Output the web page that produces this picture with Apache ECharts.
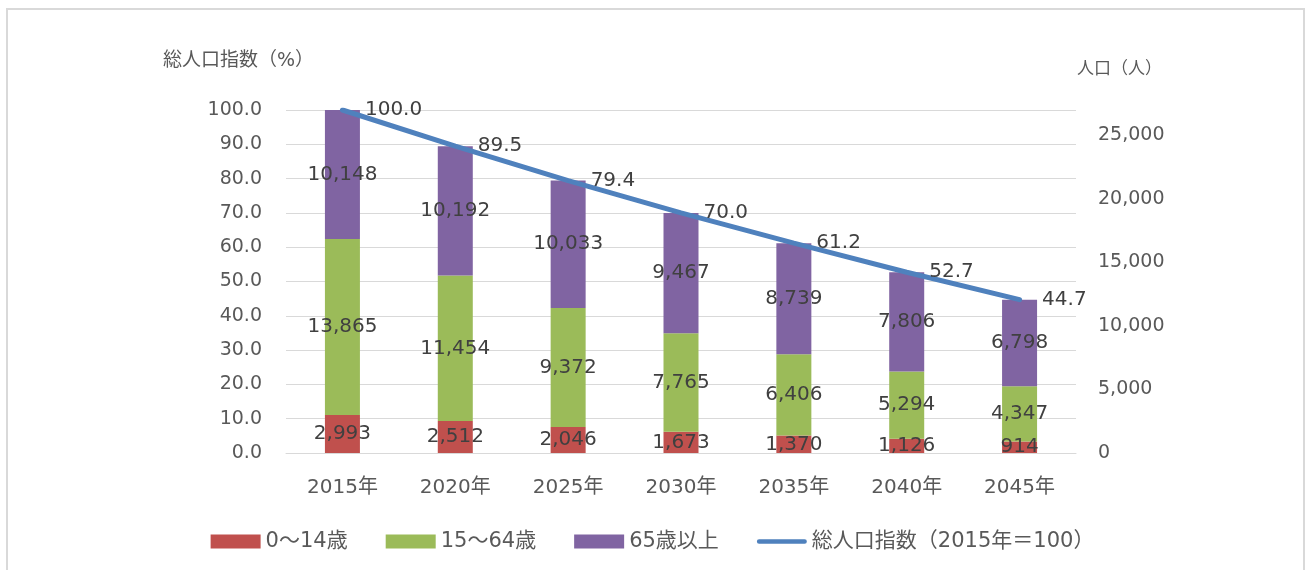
<!DOCTYPE html>
<html>
<head>
<meta charset="utf-8">
<script src="https://cdn.jsdelivr.net/npm/echarts@6/dist/echarts.min.js"></script>
<style>
  html, body { margin: 0; padding: 0; background: #fff; }
  #main { width: 1305px; height: 570px; }
  #frame { position: absolute; left: 6px; top: 8px; width: 1295px; height: 580px;
           border: 2px solid #d9d9d9; pointer-events: none; }
</style>
</head>
<body>
<div id="main"></div>
<div id="frame"></div>
<script>
// 年ごとの値
const years = ['2015年', '2020年', '2025年', '2030年', '2035年', '2040年', '2045年'];
const age0to14 = [2993, 2512, 2046, 1673, 1370, 1126, 914];
const age15to64 = [13865, 11454, 9372, 7765, 6406, 5294, 4347];
const age65plus = [10148, 10192, 10033, 9467, 8739, 7806, 6798];
const popIndex = [100.0, 89.5, 79.4, 70.0, 61.2, 52.7, 44.7];

// 2015年の総人口 = 指数100 に合わせて右軸の上限を決める
const base2015 = age0to14[0] + age15to64[0] + age65plus[0];

const font = '"DejaVu Sans", "Noto Sans CJK JP", sans-serif';
const cjkFont = '"Noto Sans CJK JP", sans-serif';
const textColor = '#595959';
const labelColor = '#404040';

function barLabel() {
    return {
        show: true,
        position: 'inside',
        color: labelColor,
        fontSize: 20,
        fontFamily: font,
        padding: [4, 0, 0, 0],
        formatter: p => p.value.toLocaleString('en-US')
    };
}

const chart = echarts.init(document.getElementById('main'));
chart.setOption({
    animation: false,
    textStyle: { fontFamily: font },
    grid: { left: 286, right: 229, top: 110, bottom: 117 },
    graphic: [
        { type: 'text', left: 163, top: 52,
          style: { text: '総人口指数（%）', fill: textColor, fontSize: 19, fontFamily: font } },
        { type: 'text', left: 1077, top: 59,
          style: { text: '人口（人）', fill: textColor, fontSize: 17, fontFamily: cjkFont } }
    ],
    legend: {
        bottom: 13,
        left: 'center',
        itemWidth: 50,
        itemHeight: 14,
        itemGap: 38,
        textStyle: { color: textColor, fontSize: 21, fontFamily: font },
        data: [
            { name: '0～14歳', icon: 'rect' },
            { name: '15～64歳', icon: 'rect' },
            { name: '65歳以上', icon: 'rect' },
            { name: '総人口指数（2015年＝100）', icon: 'path://M2,0 L52,0 A2.5,2.5 0 0 1 52,5 L2,5 A2.5,2.5 0 0 1 2,0 Z' }
        ]
    },
    xAxis: {
        type: 'category',
        data: years,
        axisTick: { show: false },
        axisLine: { lineStyle: { color: '#d9d9d9', width: 1 } },
        axisLabel: { color: textColor, fontSize: 20, margin: 25, fontFamily: font }
    },
    yAxis: [
        {
            type: 'value',
            min: 0,
            max: 100,
            interval: 10,
            axisLine: { show: false },
            axisTick: { show: false },
            splitLine: { lineStyle: { color: '#d9d9d9', width: 1 } },
            axisLabel: { color: textColor, fontSize: 19, margin: 24, fontFamily: font,
                         padding: [4, 0, 0, 0],
                         formatter: v => v.toFixed(1) }
        },
        {
            type: 'value',
            min: 0,
            max: base2015,
            interval: 5000,
            axisLine: { show: false },
            axisTick: { show: false },
            splitLine: { show: false },
            axisLabel: { color: textColor, fontSize: 19, margin: 22, fontFamily: font,
                         padding: [4, 0, 0, 0],
                         showMaxLabel: false,
                         formatter: v => v.toLocaleString('en-US') }
        }
    ],
    series: [
        { name: '0～14歳', type: 'bar', stack: 'pop', yAxisIndex: 1, barWidth: 35,
          itemStyle: { color: '#C0504D' }, label: barLabel(), data: age0to14 },
        { name: '15～64歳', type: 'bar', stack: 'pop', yAxisIndex: 1, barWidth: 35,
          itemStyle: { color: '#9BBB59' }, label: barLabel(), data: age15to64 },
        { name: '65歳以上', type: 'bar', stack: 'pop', yAxisIndex: 1, barWidth: 35,
          itemStyle: { color: '#8064A2' }, label: barLabel(), data: age65plus },
        {
            name: '総人口指数（2015年＝100）',
            type: 'line',
            yAxisIndex: 0,
            symbol: 'circle',
            symbolSize: 1,
            showSymbol: true,
            z: 5,
            lineStyle: { color: '#4F81BD', width: 5, cap: 'round' },
            itemStyle: { color: '#4F81BD' },
            label: {
                show: true,
                position: 'right',
                distance: 22,
                color: labelColor,
                fontSize: 20,
                fontFamily: font,
                padding: [4, 0, 0, 0],
                formatter: p => p.value.toFixed(1)
            },
            data: popIndex
        }
    ]
});
</script>
</body>
</html>
